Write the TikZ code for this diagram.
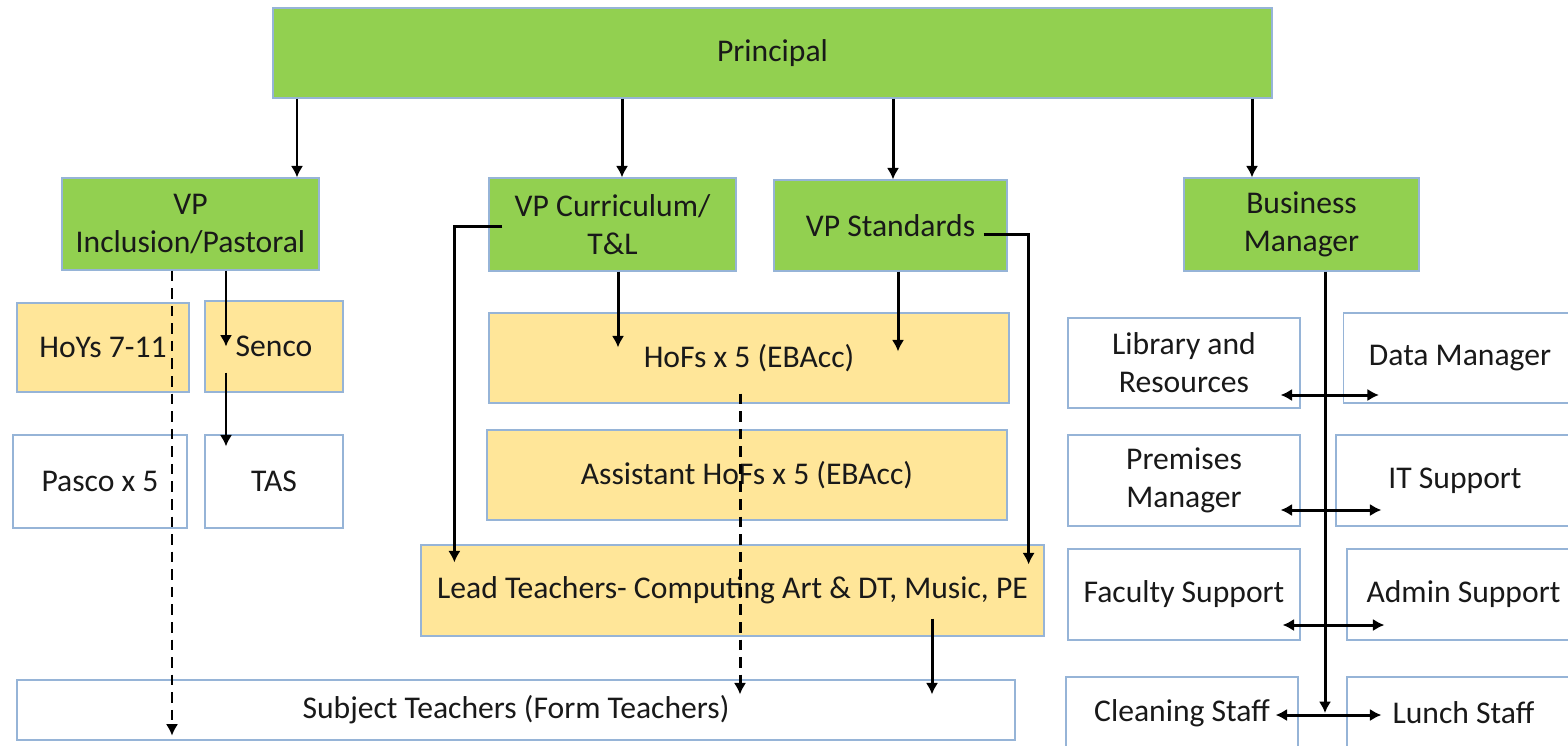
\documentclass[tikz,border=0pt]{standalone}
\usepackage{fontspec}
\setmainfont{Carlito}
\usetikzlibrary{arrows.meta,calc}
\definecolor{vpgreen}{RGB}{146,208,80}
\definecolor{hofyellow}{RGB}{255,230,153}
\definecolor{boxline}{RGB}{150,180,215}
\begin{document}
\begin{tikzpicture}[x=0.02cm,y=-0.02cm,
  box/.style={draw=boxline,line width=0.7pt,align=center,inner sep=0pt,text=black!90,
    font=\fontsize{18}{21.5}\selectfont},
  wh/.style 2 args={minimum width=#1*0.02cm,minimum height=#2*0.02cm},
  greenbox/.style={box,fill=vpgreen},
  yellowbox/.style={box,fill=hofyellow},
  whitebox/.style={box,fill=white},
  arr/.style={line width=1.7pt,-{Latex[length=6.5pt,width=7pt]}},
  dasharr/.style={arr,dash pattern=on 6pt off 4pt},
  both/.style={line width=1.7pt,{Latex[length=6.5pt,width=7pt]}-{Latex[length=6.5pt,width=7pt]}}]
\useasboundingbox (0,0) rectangle (1568,745);
\clip (0,0) rectangle (1568,745);

\node[greenbox,wh={999}{90}] (principal) at (772.5,53) {Principal};
\node[greenbox,wh={257}{92}] (vpinc) at (190.5,224) {VP\\Inclusion/Pastoral};
\node[greenbox,wh={247}{93}] (vpcur) at (612.5,224.5) {VP Curriculum/\\T\&L};
\node[greenbox,wh={233}{91}] (vpstd) at (890.5,225.5) {VP Standards};
\node[greenbox,wh={235}{93}] (busman) at (1301.5,224.5) {Business\\Manager};

\node[yellowbox,wh={172}{89}] (hoys) at (103,347.5) {HoYs 7-11};
\node[yellowbox,wh={138}{91}] (senco) at (274,346.5) {Senco};
\node[whitebox,wh={174}{93}] (pasco) at (100,481.5) {Pasco x 5};
\node[whitebox,wh={138}{93}] (tas) at (274,481.5) {TAS};

\node[yellowbox,wh={520}{90}] (hofs) at (749,358) {HoFs x 5 (EBAcc)};
\node[yellowbox,wh={520}{90}] (ahofs) at (747,475) {Assistant HoFs x 5 (EBAcc)};
\node[yellowbox,wh={623}{91}] (leadt) at (732.5,590.5) {Lead Teachers- Computing Art \& DT, Music, PE};
\node[whitebox,wh={998}{60}] (subj) at (516,710) {Subject Teachers (Form Teachers)};

\node[whitebox,wh={232}{90}] (lib) at (1184,363) {Library and\\Resources};
\node[whitebox,wh={233}{90}] (data) at (1460,358) {Data Manager};
\node[whitebox,wh={232}{91}] (prem) at (1184,480.5) {Premises\\Manager};
\node[whitebox,wh={238}{91}] (itsup) at (1455,480.5) {IT Support};
\node[whitebox,wh={232}{91}] (fac) at (1184,594.5) {Faculty Support};
\node[whitebox,wh={233}{91}] (admin) at (1463.5,594.5) {Admin Support};
\node[whitebox,wh={232}{72}] (clean) at (1182,713) {Cleaning Staff};
\node[whitebox,wh={233}{72}] (lunch) at (1463.5,713) {Lunch Staff};

\draw[arr] (principal.south -| 297,0) -- (vpinc.north -| 297,0);
\draw[arr] (principal.south -| 622,0) -- (vpcur.north -| 622,0);
\draw[arr] (principal.south -| 893,0) -- (vpstd.north -| 893,0);
\draw[arr] (principal.south -| 1252,0) -- (busman.north -| 1252,0);

\draw[arr] (vpinc.south -| 226,0) -- (senco.center -| 226,0);
\draw[arr] ($(senco.center -| 226,0)+(0,26)$) -- ($(tas.north -| 226,0)+(0,12)$);
\draw[dasharr] (vpinc.south -| 172,0) -- ($(subj.south -| 172,0)+(0,-5)$);

\draw[arr] (vpcur.south -| 618,0) -- ($(hofs.north -| 618,0)+(0,35)$);
\draw[arr] (vpstd.south -| 898,0) -- ($(hofs.north -| 898,0)+(0,39)$);
\draw[arr] ($(vpcur.west)+(14,2)$) -| ($(leadt.north west)+(34,18)$);
\draw[arr] ($(vpstd.east)+(-24,8.5)$) -| ($(leadt.north east)+(-16,20)$);
\draw[dasharr] ($(hofs.south -| 740,0)+(0,-10)$) -- ($(subj.north -| 740,0)+(0,15)$);
\draw[arr] ($(leadt.south -| 932,0)+(0,-18)$) -- ($(subj.north -| 932,0)+(0,15)$);

\draw[arr] (busman.south -| 1325,0) -- (clean.center -| 1325,0);
\draw[both] ($(lib.east)+(-20,32)$) -- ($(data.west)+(36,37)$);
\draw[both] ($(prem.east)+(-20,29.5)$) -- ($(itsup.west)+(46,29.5)$);
\draw[both] ($(fac.east)+(-18,30.5)$) -- ($(admin.west)+(38,30.5)$);
\draw[both] ($(clean.east)+(-23,2)$) -- ($(lunch.west)+(35,2)$);
\end{tikzpicture}
\end{document}
